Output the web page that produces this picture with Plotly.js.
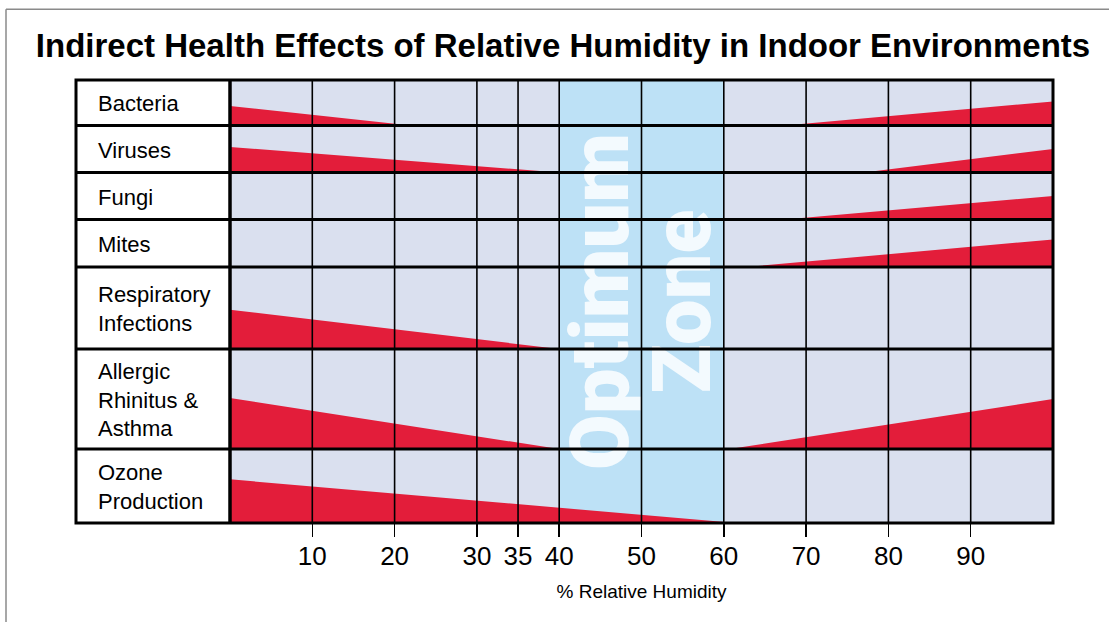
<!DOCTYPE html>
<html><head><meta charset="utf-8">
<script src="https://cdn.plot.ly/plotly-3.0.1.min.js"></script>
<style>html,body{margin:0;padding:0;background:#fff}#chart{width:1109px;height:622px}</style>
</head><body><div id="chart"></div>
<script>
// ---------- data ----------
const humidityRange = [0, 100];
const humidityTicks = [10, 20, 30, 35, 40, 50, 60, 70, 80, 90];
const categories = ['Bacteria', 'Viruses', 'Fungi', 'Mites',
  'Respiratory<br>Infections', 'Allergic<br>Rhinitus &<br>Asthma', 'Ozone<br>Production'];
// relative intensity of the effect at 0 % RH, and RH where it fades out
const lowRhLevel = [0.43, 0.545, null, null, 0.48, 0.51, 0.59];
const lowRhEnd   = [22, 40, null, null, 40, 40, 61.5];
// RH where the high-humidity effect starts, and its intensity at 100 % RH
const highRhStart = [67.4, 77, 67.4, 62.7, null, 60.7, null];
const highRhLevel = [0.53, 0.50, 0.50, 0.58, null, 0.50, null];
const optimumZone = [40, 60];
const zoneWords = ['Optimum', 'Zone'];

// ---------- layout config ----------
const ROW_H = [45.5, 47, 47, 47.5, 82, 100, 74];
const TOTAL = ROW_H.reduce((a, b) => a + b, 0);
const W = 1109, H = 622, ML = 230, MR = 56, MT = 80, MB = 99;
const PW = W - ML - MR, PH = H - MT - MB;
const px2x = px => (px - ML) / PW;
const py2y = py => (H - MB - py) / PH;
const RED = '#e31d3a', BG = '#dae0ef', ZONE = '#bde1f6';
const SANS = '"Liberation Sans", Arial, Helvetica, sans-serif';

const tops = [], bottoms = [];
let acc = 0;
ROW_H.forEach(h => { tops.push(acc); acc += h; bottoms.push(acc); });

const traces = [];
// optimum zone (two halves, one word each)
const zMid = (optimumZone[0] + optimumZone[1]) / 2;
const zHalf = (optimumZone[1] - optimumZone[0]) / 2;
traces.push({
  type: 'bar',
  x: [optimumZone[0] + zHalf / 2, zMid + zHalf / 2],
  y: [TOTAL, TOTAL], base: [0, 0], width: [zHalf, zHalf],
  marker: {color: ZONE, line: {width: 0}},
  text: zoneWords, textposition: 'inside', insidetextanchor: 'middle',
  textangle: -90, constraintext: 'none', cliponaxis: false,
  textfont: {family: 'Roboto, "Open Sans", sans-serif', size: 81, weight: 900, color: 'rgba(255,255,255,0.82)'},
  hoverinfo: 'skip', showlegend: false
});

categories.forEach((c, i) => {
  const b = bottoms[i], h = ROW_H[i];
  if (lowRhLevel[i] != null) {
    traces.push({
      type: 'scatter', mode: 'lines', fill: 'toself', fillcolor: RED,
      line: {width: 0, color: RED},
      x: [humidityRange[0], humidityRange[0], lowRhEnd[i]],
      y: [b, b - lowRhLevel[i] * h, b],
      hoverinfo: 'skip', showlegend: false
    });
  }
  if (highRhLevel[i] != null) {
    traces.push({
      type: 'scatter', mode: 'lines', fill: 'toself', fillcolor: RED,
      line: {width: 0, color: RED},
      x: [highRhStart[i], humidityRange[1], humidityRange[1]],
      y: [b, b - highRhLevel[i] * h, b],
      hoverinfo: 'skip', showlegend: false
    });
  }
});

const shapes = [];
// label column
shapes.push({type: 'rect', xref: 'paper', yref: 'paper', x0: px2x(76), x1: 0, y0: 0, y1: 1,
  fillcolor: '#ffffff', line: {width: 0}, layer: 'below'});
// vertical grid lines (drawn over the wedges)
humidityTicks.forEach(t => shapes.push({type: 'line', xref: 'x', yref: 'paper', x0: t, x1: t, y0: 0, y1: 1,
  line: {color: '#000', width: 1.6}, layer: 'above'}));
// row separators
bottoms.slice(0, -1).forEach(yb => shapes.push({type: 'line', xref: 'paper', yref: 'y',
  x0: px2x(76), x1: 1, y0: yb, y1: yb, line: {color: '#000', width: 3}, layer: 'above'}));
// column divider
shapes.push({type: 'line', xref: 'paper', yref: 'paper', x0: 0, x1: 0, y0: 0, y1: 1,
  line: {color: '#000', width: 3.5}, layer: 'above'});
// outer border
shapes.push({type: 'rect', xref: 'paper', yref: 'paper', x0: px2x(76), x1: 1, y0: 0, y1: 1,
  line: {color: '#000', width: 3}, fillcolor: 'rgba(0,0,0,0)', layer: 'above'});
// image frame
shapes.push({type: 'line', xref: 'paper', yref: 'paper', x0: px2x(6), x1: px2x(1109), y0: py2y(9.3), y1: py2y(9.3),
  line: {color: '#8a8a8a', width: 1.5}});
shapes.push({type: 'line', xref: 'paper', yref: 'paper', x0: px2x(6), x1: px2x(6), y0: py2y(9.3), y1: py2y(622),
  line: {color: '#8a8a8a', width: 1.5}});

const annotations = categories.map((c, i) => ({
  xref: 'paper', yref: 'y', x: px2x(96), y: (tops[i] + bottoms[i]) / 2 + 1,
  xanchor: 'left', yanchor: 'middle', align: 'left', showarrow: false, text: c,
  font: {family: SANS, size: 22, color: '#000'}
}));

const layout = {
  width: W, height: H,
  margin: {l: ML, r: MR, t: MT, b: MB, pad: 0},
  paper_bgcolor: '#fff', plot_bgcolor: BG,
  showlegend: false, barmode: 'overlay',
  title: {text: '<b>Indirect Health Effects of Relative Humidity in Indoor Environments</b>',
    x: 563 / W, xref: 'container', xanchor: 'center', y: 1 - 45 / H, yref: 'container', yanchor: 'middle',
    font: {family: SANS, size: 33, color: '#000'}},
  xaxis: {range: humidityRange, tickvals: humidityTicks, ticktext: humidityTicks.map(String),
    showgrid: false, zeroline: false, showline: false,
    ticks: 'outside', ticklen: 13, tickwidth: 1.5, tickcolor: '#000', ticklabelstandoff: -3,
    tickfont: {family: SANS, size: 26, color: '#000'},
    title: {text: '% Relative Humidity', standoff: 14, font: {family: SANS, size: 19, color: '#000'}},
    fixedrange: true},
  yaxis: {range: [TOTAL, 0], showgrid: false, zeroline: false, showline: false,
    showticklabels: false, ticks: '', fixedrange: true},
  shapes, annotations
};

Plotly.newPlot('chart', traces, layout, {displayModeBar: false, staticPlot: true});
</script></body></html>
